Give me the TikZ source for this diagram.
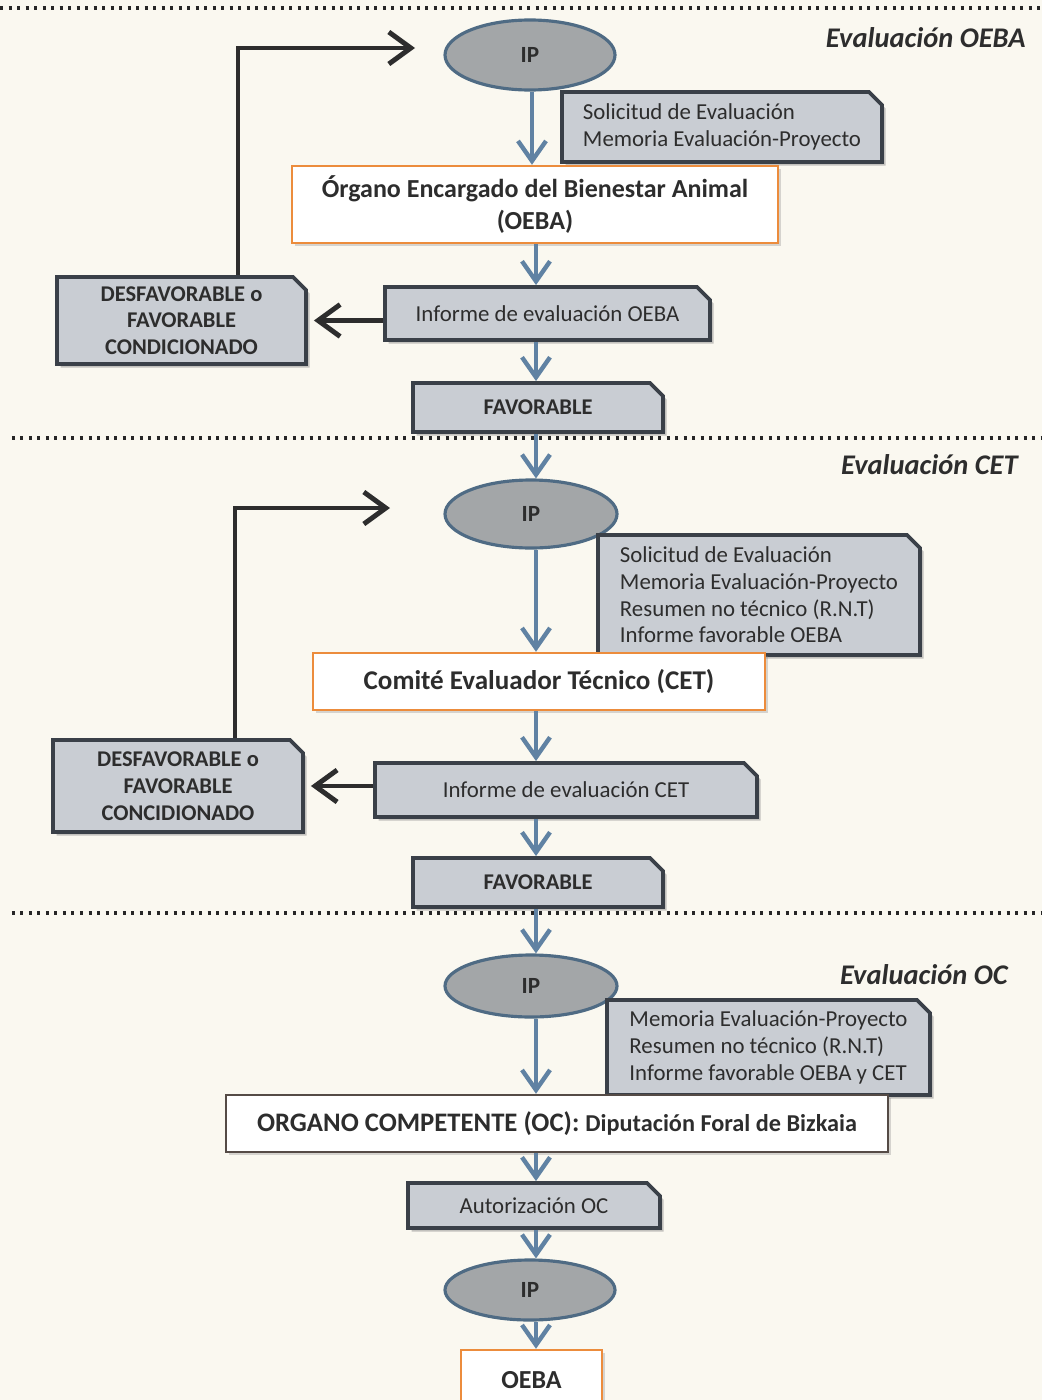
\documentclass[tikz,border=0pt]{standalone}
\usepackage{fontspec}
\setmainfont{Carlito}
\usepackage{xcolor}
\usepackage{tikz}
\usetikzlibrary{shapes.geometric,shapes.misc,arrows.meta,shadows}
\definecolor{paper}{RGB}{250,248,240}
\definecolor{boxgrey}{RGB}{201,205,211}
\definecolor{boxline}{RGB}{58,64,72}
\definecolor{ipgrey}{RGB}{163,166,168}
\definecolor{ipline}{RGB}{79,107,132}
\definecolor{myblue}{RGB}{96,130,163}
\definecolor{myorange}{RGB}{236,140,60}
\definecolor{txt}{RGB}{45,45,45}
\tikzstyle{ip} = [ellipse,draw=ipline,fill=ipgrey,line width=0.9pt,inner sep=0pt,minimum width=1.7cm,minimum height=0.7cm,font=\fontsize{6.6}{7.6}\selectfont\bfseries,text=txt]
\tikzstyle{greybox} = [chamfered rectangle,chamfered rectangle corners=north east,chamfered rectangle xsep=0.65mm,chamfered rectangle ysep=0.65mm,draw=boxline,fill=boxgrey,line width=1.1pt,inner sep=0pt,align=center,text=txt,drop shadow={shadow xshift=0.35mm,shadow yshift=-0.35mm,opacity=0.45}]
\tikzstyle{note} = [greybox,align=left,font=\fontsize{6.5}{7.6}\selectfont]
\tikzstyle{whitebox} = [rectangle,draw=myorange,fill=white,line width=0.7pt,inner sep=0pt,align=center,text=txt,font=\fontsize{7.4}{9.1}\selectfont\bfseries,drop shadow={shadow xshift=0.25mm,shadow yshift=-0.25mm,opacity=0.3}]
\tikzstyle{arrow} = [draw=myblue,line width=1.25pt,-{Straight Barb[length=2mm,width=2.8mm]}]
\tikzstyle{backarrow} = [draw=txt,line width=1.4pt,-{Straight Barb[length=2.2mm,width=3.2mm]}]
\tikzstyle{sep} = [line width=0.35mm,dash pattern=on 0.3mm off 0.55mm,black!85]
\tikzstyle{phase} = [anchor=east,font=\fontsize{8.1}{9}\selectfont\bfseries\itshape,text=txt]

\begin{document}
\begin{tikzpicture}[scale=1]
            \useasboundingbox (0,0) rectangle (10.42,-14.00);
            \fill[paper] (0,0) rectangle (10.42,-14.00);
            % separators
            \draw[sep] (0,-0.08) -- (10.42,-0.08);
            \draw[sep] (0.12,-4.38) -- (10.42,-4.38);
            \draw[sep] (0.12,-9.13) -- (10.42,-9.13);
            \draw (10.38,-0.38) node[phase] (ph1) {Evaluación OEBA};
            \draw (10.30,-4.65) node[phase] (ph2) {Evaluación CET};
            \draw (10.20,-9.75) node[phase] (ph3) {Evaluación OC};
            % Evaluacion OEBA
            \draw (5.30,-0.55) node[ip] (ip1) {IP};
            \draw (7.22,-1.27) node[note,minimum width=3.2cm,minimum height=0.7cm] (note1) {Solicitud de Evaluación\\Memoria Evaluación-Proyecto};
            \draw (5.35,-2.045) node[whitebox,minimum width=4.86cm,minimum height=0.77cm] (oeba) {Órgano Encargado del Bienestar Animal\\(OEBA)};
            \draw (5.475,-3.135) node[greybox,minimum width=3.25cm,minimum height=0.53cm,font=\fontsize{6.5}{7.6}\selectfont] (inf1) {Informe de evaluación OEBA};
            \draw (1.815,-3.205) node[greybox,minimum width=2.49cm,minimum height=0.87cm,font=\fontsize{6.4}{7.6}\selectfont\bfseries] (desf1) {DESFAVORABLE o\\FAVORABLE\\CONDICIONADO};
            \draw (5.38,-4.075) node[greybox,minimum width=2.5cm,minimum height=0.49cm,font=\fontsize{6.4}{7.6}\selectfont\bfseries] (fav1) {FAVORABLE};
            % Evaluacion CET
            \draw (5.31,-5.14) node[ip,minimum width=1.72cm,minimum height=0.68cm] (ip2) {IP};
            \draw (7.59,-5.95) node[note,minimum width=3.22cm,minimum height=1.2cm] (note2) {Solicitud de Evaluación\\Memoria Evaluación-Proyecto\\Resumen no técnico (R.N.T)\\Informe favorable OEBA};
            \draw (5.39,-6.815) node[whitebox,minimum width=4.52cm,minimum height=0.57cm,font=\fontsize{7.7}{9}\selectfont\bfseries] (cet) {Comité Evaluador Técnico (CET)};
            \draw (5.66,-7.90) node[greybox,minimum width=3.82cm,minimum height=0.54cm,font=\fontsize{6.5}{7.6}\selectfont] (inf2) {Informe de evaluación CET};
            \draw (1.78,-7.86) node[greybox,minimum width=2.5cm,minimum height=0.92cm,font=\fontsize{6.4}{7.6}\selectfont\bfseries] (desf2) {DESFAVORABLE o\\FAVORABLE\\CONCIDIONADO};
            \draw (5.38,-8.825) node[greybox,minimum width=2.5cm,minimum height=0.49cm,font=\fontsize{6.4}{7.6}\selectfont\bfseries] (fav2) {FAVORABLE};
            % Evaluacion OC
            \draw (5.31,-9.86) node[ip,minimum width=1.72cm,minimum height=0.62cm] (ip3) {IP};
            \draw (7.685,-10.475) node[note,minimum width=3.23cm,minimum height=0.95cm] (note3) {Memoria Evaluación-Proyecto\\Resumen no técnico (R.N.T)\\Informe favorable OEBA y CET};
            \draw (5.57,-11.235) node[whitebox,draw=boxline!85!myorange,minimum width=6.62cm,minimum height=0.57cm,font=\fontsize{7.6}{9}\selectfont\bfseries] (oc) {ORGANO COMPETENTE (OC): {\fontsize{6.9}{9}\selectfont Diputación Foral de Bizkaia}};
            \draw (5.34,-12.055) node[greybox,minimum width=2.52cm,minimum height=0.45cm,font=\fontsize{6.5}{7.6}\selectfont] (aut) {Autorización OC};
            \draw (5.30,-12.90) node[ip,minimum height=0.6cm] (ip4) {IP};
            \draw (5.315,-13.80) node[whitebox,minimum width=1.41cm,minimum height=0.6cm] (oebaf) {OEBA};
            % edges
            \coordinate (col) at (5.36,0);
            \coordinate (ret1) at (4.15,-0.48);
            \coordinate (ret2) at (3.90,-5.08);
            \draw[arrow] (ip1.south -| 5.32,0) -- (oeba.north -| 5.32,0);
            \draw[arrow] (oeba.south -| col) -- (inf1.north -| col);
            \draw[arrow] (inf1.south -| col) -- (fav1.north -| col);
            \draw[arrow] (fav1.south -| col) -- (ip2.north -| col);
            \draw[arrow] (ip2.south -| col) -- (cet.north -| col);
            \draw[arrow] (cet.south -| col) -- (inf2.north -| col);
            \draw[arrow] (inf2.south -| col) -- (fav2.north -| col);
            \draw[arrow] (fav2.south -| col) -- (ip3.north -| col);
            \draw[arrow] (ip3.south -| col) -- (oc.north -| col);
            \draw[arrow] (oc.south -| col) -- (aut.north -| col);
            \draw[arrow] (aut.south -| col) -- (ip4.north -| col);
            \draw[arrow] (ip4.south -| col) -- (oebaf.north -| col);
            \draw[backarrow] (inf1.west |- desf1) -- ([xshift=0.6mm]desf1.east);
            \draw[backarrow] (inf2.west |- desf2) -- ([xshift=0.6mm]desf2.east);
            \draw[backarrow] ([xshift=5.65mm]desf1.north) |- (ret1);
            \draw[backarrow] ([xshift=5.7mm]desf2.north) |- (ret2);
\end{tikzpicture}
\end{document}
